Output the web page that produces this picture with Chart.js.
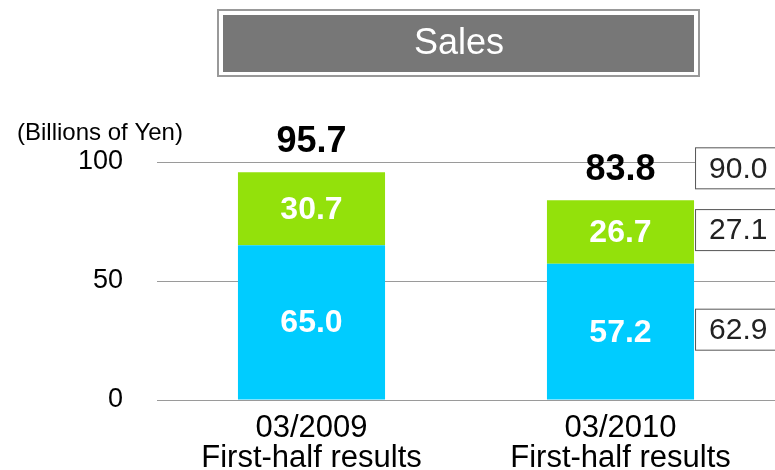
<!DOCTYPE html>
<html>
<head>
<meta charset="utf-8">
<script src="https://cdn.jsdelivr.net/npm/chart.js@4/dist/chart.umd.min.js"></script>
<style>
  html, body { margin: 0; padding: 0; background: #fff; }
  #wrap { width: 775px; height: 470px; position: relative; }
</style>
</head>
<body>
<div id="wrap"><canvas id="sales"></canvas></div>
<script>
// data
var categories = [['03/2009', 'First-half results'], ['03/2010', 'First-half results']];
var blueValues = [65.0, 57.2];
var greenValues = [30.7, 26.7];
var totals = [95.7, 83.8];
// forecast shown in boxes beside the second bar
var forecastBlue = 62.9;
var forecastGreen = 27.1;
var forecastTotal = 90.0;
var yTicks = [0, 50, 100];

var FONT = '"Liberation Sans", Arial, sans-serif';

//
// draw the title box, unit text, value labels and forecast boxes
//
var extras = {
  id: 'extras',
  afterDatasetsDraw: function (chart) {
    var ctx = chart.ctx;
    var blueMeta = chart.getDatasetMeta(0);
    var greenMeta = chart.getDatasetMeta(1);

    ctx.save();

    // title box
    ctx.fillStyle = '#ffffff';
    ctx.fillRect(217, 9, 483, 68);
    ctx.strokeStyle = '#999999';
    ctx.lineWidth = 2;
    ctx.strokeRect(218, 10, 481, 66);
    ctx.fillStyle = '#777777';
    ctx.fillRect(223, 15, 471, 57);
    ctx.fillStyle = '#ffffff';
    ctx.font = '36px ' + FONT;
    ctx.textAlign = 'center';
    ctx.textBaseline = 'middle';
    ctx.fillText('Sales', 459, 44);

    // unit
    ctx.fillStyle = '#000000';
    ctx.font = '24px ' + FONT;
    ctx.textAlign = 'left';
    ctx.fillText('(Billions of Yen)', 17, 133);

    // segment labels
    ctx.textAlign = 'center';
    ctx.font = 'bold 32px ' + FONT;
    ctx.fillStyle = '#ffffff';
    for (var i = 0; i < categories.length; i++) {
      var b = blueMeta.data[i];
      var g = greenMeta.data[i];
      ctx.fillText(blueValues[i].toFixed(1), b.x, (b.y + b.base) / 2 + 1);
      ctx.fillText(greenValues[i].toFixed(1), g.x, (g.y + g.base) / 2 + 1);
    }

    // totals
    ctx.fillStyle = '#000000';
    ctx.font = 'bold 36px ' + FONT;
    for (var j = 0; j < categories.length; j++) {
      var top = greenMeta.data[j];
      ctx.fillText(totals[j].toFixed(1), top.x, top.y - 30);
    }

    // forecast boxes
    var last = categories.length - 1;
    var bx = blueMeta.data[last].x + blueMeta.data[last].width / 2 + 1;
    var g2 = greenMeta.data[last];
    var b2 = blueMeta.data[last];
    var boxes = [
      [forecastTotal, g2.y - 32],
      [forecastGreen, (g2.y + g2.base) / 2 - 2],
      [forecastBlue, (b2.y + b2.base) / 2 - 2]
    ];
    ctx.font = '30px ' + FONT;
    ctx.lineWidth = 1;
    ctx.strokeStyle = '#555555';
    boxes.forEach(function (bo) {
      var cy = bo[1];
      ctx.fillStyle = '#ffffff';
      ctx.fillRect(bx, cy - 21, 100, 42);
      ctx.strokeRect(bx + 0.5, cy - 20.5, 100, 41);
      ctx.fillStyle = '#222222';
      ctx.textAlign = 'left';
      ctx.fillText(bo[0].toFixed(1), bx + 14, cy + 1);
    });

    ctx.restore();
  }
};

var ctx = document.getElementById('sales').getContext('2d');
var chart = new Chart(ctx, {
  type: 'bar',
  data: {
    labels: categories,
    datasets: [{
      label: 'blue',
      data: blueValues,
      backgroundColor: '#00CCFF',
      categoryPercentage: 1,
      barPercentage: 0.476
    }, {
      label: 'green',
      data: greenValues,
      backgroundColor: '#93E10B',
      categoryPercentage: 1,
      barPercentage: 0.476
    }]
  },
  options: {
    responsive: true,
    maintainAspectRatio: false,
    animation: false,
    layout: { padding: { top: 162, right: 0, bottom: 0, left: 0 } },
    plugins: {
      legend: { display: false },
      tooltip: { enabled: false }
    },
    scales: {
      x: {
        stacked: true,
        grid: { display: false },
        border: { display: false },
        ticks: {
          color: '#000',
          padding: 6,
          font: { family: FONT, size: 31, lineHeight: 0.96 }
        },
        afterFit: function (scale) { scale.height = 70; }
      },
      y: {
        stacked: true,
        min: 0,
        max: 100,
        border: { display: false },
        grid: { color: '#9a9a9a', lineWidth: 1, drawTicks: false },
        afterBuildTicks: function (scale) {
          scale.ticks = yTicks.map(function (v) { return { value: v }; });
        },
        ticks: {
          color: '#000',
          padding: 34,
          font: { family: FONT, size: 27 }
        },
        afterFit: function (scale) { scale.width = 157; }
      }
    }
  },
  plugins: [extras]
});
</script>
</body>
</html>
